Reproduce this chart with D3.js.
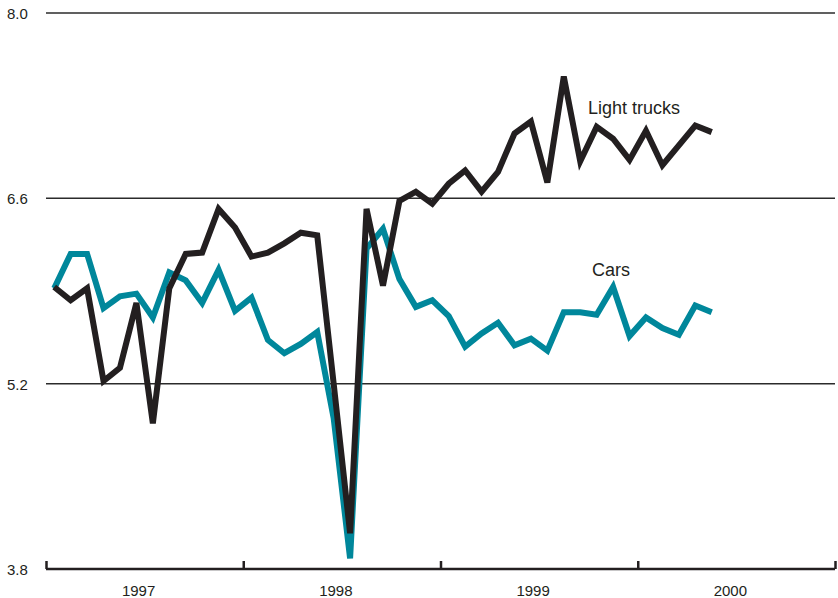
<!DOCTYPE html>
<html>
<head>
<meta charset="utf-8">
<script src="https://cdn.jsdelivr.net/npm/d3@7"></script>
<style>
  body { margin: 0; background: #fff; }
  svg text { font-family: "Liberation Sans", Arial, sans-serif; fill: #231f20; }
</style>
</head>
<body>
<div id="chart"></div>
<script>
var w = 838,
    h = 598;

// monthly values, Jan 1997 - May 2000
var trucks = [5.93, 5.83, 5.92, 5.22, 5.32, 5.81, 4.90, 5.92, 6.18, 6.19, 6.52, 6.38,
              6.16, 6.19, 6.26, 6.34, 6.32, 5.20, 4.07, 6.52, 5.94, 6.58, 6.65, 6.56,
              6.71, 6.81, 6.65, 6.80, 7.09, 7.18, 6.72, 7.52, 6.88, 7.14, 7.05, 6.89,
              7.11, 6.85, 7.00, 7.15, 7.10];
var cars = [5.92, 6.18, 6.18, 5.77, 5.86, 5.88, 5.70, 6.04, 5.98, 5.81, 6.06, 5.75,
            5.85, 5.53, 5.43, 5.50, 5.59, 4.94, 3.88, 6.22, 6.37, 5.99, 5.78, 5.83,
            5.71, 5.48, 5.58, 5.66, 5.49, 5.54, 5.45, 5.74, 5.74, 5.72, 5.93, 5.56,
            5.70, 5.62, 5.57, 5.79, 5.74];
var yTicks = [3.8, 5.2, 6.6, 8.0];
var years = ["1997", "1998", "1999", "2000"];

var truckColor = "#231f20",
    carColor = "#00879b";

var svg = d3.select("#chart")
    .append("svg")
    .attr("width", w)
    .attr("height", h);

// x in months since Jan 1997
var x = d3.scaleLinear()
    .domain([0, 48])
    .range([46, 835]);
var y = d3.scaleLinear()
    .domain([3.8, 8.0])
    .range([569, 13]);

// gridlines + labels
svg.selectAll(".grid")
    .data(yTicks.slice(1))
    .enter().append("line")
    .attr("x1", 46)
    .attr("x2", 835)
    .attr("y1", function(d) { return y(d); })
    .attr("y2", function(d) { return y(d); })
    .style("stroke", "#2b2b2b")
    .style("stroke-width", "1.5px");

svg.selectAll(".ylab")
    .data(yTicks)
    .enter().append("text")
    .attr("x", 7)
    .attr("y", function(d) { return y(d) + 6; })
    .style("font-size", "15px")
    .text(function(d) { return d.toFixed(1); });

// bottom axis with year ticks
var xAxis = d3.axisBottom(x)
    .tickValues([0, 12, 24, 36, 48])
    .tickSize(-8)
    .tickFormat("");
var gx = svg.append("g")
    .attr("transform", "translate(0," + y(3.8) + ")")
    .call(xAxis);
gx.select(".domain")
    .attr("d", "M46,0H835")
    .style("stroke", "#231f20")
    .style("stroke-width", "2.5px");
gx.selectAll(".tick line")
    .style("stroke", "#231f20")
    .style("stroke-width", "2.5px");

svg.selectAll(".year")
    .data(years)
    .enter().append("text")
    .attr("x", function(d, i) { return x(i * 12 + 6) - 6; })
    .attr("y", 596)
    .attr("text-anchor", "middle")
    .style("font-size", "15px")
    .text(function(d) { return d; });

var line = d3.line()
    .x(function(d, i) { return x(i + 0.5); })
    .y(function(d) { return y(d); });

svg.append("path")
    .datum(cars)
    .attr("d", line)
    .style("fill", "none")
    .style("stroke", carColor)
    .style("stroke-width", "6px")
    .style("stroke-linejoin", "miter");

svg.append("path")
    .datum(trucks)
    .attr("d", line)
    .style("fill", "none")
    .style("stroke", truckColor)
    .style("stroke-width", "6px")
    .style("stroke-linejoin", "miter");

svg.append("text")
    .attr("x", 588)
    .attr("y", 114)
    .style("font-size", "18px")
    .text("Light trucks");

svg.append("text")
    .attr("x", 592)
    .attr("y", 276)
    .style("font-size", "18px")
    .text("Cars");
</script>
</body>
</html>
